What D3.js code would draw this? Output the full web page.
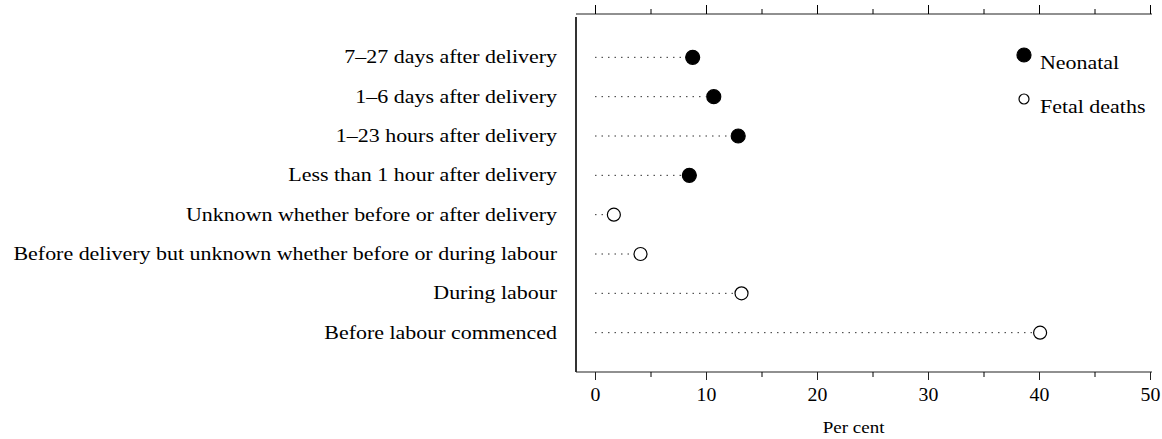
<!DOCTYPE html>
<html>
<head>
<meta charset="utf-8">
<script src="https://cdn.jsdelivr.net/npm/d3@7"></script>
<style>
  body { margin: 0; background: #fff; }
  text { font-family: "Liberation Serif", "Times New Roman", serif; fill: #000; }
</style>
</head>
<body>
<div class="canvas"></div>
<script>
const width = 1162
const height = 439

// data
const categories = [
    "7–27 days after delivery",
    "1–6 days after delivery",
    "1–23 hours after delivery",
    "Less than 1 hour after delivery",
    "Unknown whether before or after delivery",
    "Before delivery but unknown whether before or during labour",
    "During labour",
    "Before labour commenced"
]
const percents = [8.8, 10.7, 12.9, 8.5, 1.7, 4.1, 13.2, 40.1]
const groups = ["Neonatal", "Neonatal", "Neonatal", "Neonatal",
                "Fetal deaths", "Fetal deaths", "Fetal deaths", "Fetal deaths"]
const legendItems = ["Neonatal", "Fetal deaths"]
const majorTicks = [0, 10, 20, 30, 40, 50]
const minorTicks = [5, 15, 25, 35, 45]

const rows = categories.map((c, i) => ({ cat: c, value: percents[i], group: groups[i] }))

const svg = d3.select(".canvas")
    .append("svg")
    .attr("width", width)
    .attr("height", height)

const frameLeft = 576
const frameRight = 1152
const frameTop = 14
const frameBottom = 372
// the scanned type is wider than normal Times
const stretch = 1.22

const x = d3.scaleLinear().domain([0, 50]).range([595, 1150])
const y = d3.scalePoint().domain(categories).range([18, frameBottom]).padding(1)

// frame lines
svg.append("line")
    .attr("x1", frameLeft).attr("x2", frameLeft)
    .attr("y1", 17).attr("y2", frameBottom)
    .attr("stroke", "#333").attr("stroke-width", 2)
svg.append("line")
    .attr("x1", frameLeft).attr("x2", frameRight)
    .attr("y1", frameBottom).attr("y2", frameBottom)
    .attr("stroke", "#222").attr("stroke-width", 1.2)
svg.append("line")
    .attr("x1", frameLeft).attr("x2", frameRight)
    .attr("y1", frameTop).attr("y2", frameTop)
    .attr("stroke", "#222").attr("stroke-width", 1.2)

// bottom axis
const bottom = svg.append("g")
    .attr("transform", `translate(0,${frameBottom})`)
    .call(d3.axisBottom(x).tickValues(majorTicks).tickSize(8).tickPadding(8))
bottom.select(".domain").remove()
bottom.selectAll("text")
    .style("font-size", "18px")
    .style("font-family", "Liberation Serif")
    .attr("transform", "scale(1.1,1)")
bottom.selectAll("line").attr("stroke", "#222")

svg.append("g")
    .attr("transform", `translate(0,${frameBottom})`)
    .call(d3.axisBottom(x).tickValues(minorTicks).tickSize(5).tickFormat(""))
    .call(g => g.select(".domain").remove())

// top axis, no labels
svg.append("g")
    .attr("transform", `translate(0,${frameTop})`)
    .call(d3.axisTop(x).tickValues(majorTicks).tickSize(9).tickFormat(""))
    .call(g => g.select(".domain").remove())
svg.append("g")
    .attr("transform", `translate(0,${frameTop})`)
    .call(d3.axisTop(x).tickValues(minorTicks).tickSize(5).tickFormat(""))
    .call(g => g.select(".domain").remove())

svg.append("text")
    .attr("transform", `translate(${x(23.3)},433) scale(1.12,1)`)
    .attr("text-anchor", "middle")
    .style("font-size", "17px")
    .text("Per cent")

// category labels
svg.append("g")
    .attr("transform", `translate(557,0) scale(${stretch},1)`)
    .selectAll("text")
    .data(categories)
    .enter()
    .append("text")
    .attr("x", 0)
    .attr("y", d => y(d) + 6)
    .attr("text-anchor", "end")
    .style("font-size", "18px")
    .text(d => d)

// dotted leaders
svg.append("g")
    .selectAll("line")
    .data(rows)
    .enter()
    .append("line")
    .attr("x1", x(0))
    .attr("x2", d => x(d.value) - 8)
    .attr("y1", d => y(d.cat))
    .attr("y2", d => y(d.cat))
    .attr("stroke", "#333")
    .attr("stroke-width", 1)
    .attr("stroke-dasharray", "1.5,5")

// points
svg.append("g")
    .selectAll("circle")
    .data(rows)
    .enter()
    .append("circle")
    .attr("cx", d => x(d.value))
    .attr("cy", d => y(d.cat))
    .attr("r", d => d.group === "Neonatal" ? 7 : 6.5)
    .attr("fill", d => d.group === "Neonatal" ? "#000" : "#fff")
    .attr("stroke", "#000")
    .attr("stroke-width", 1.2)

// legend
const legend = svg.append("g")
    .selectAll("g")
    .data(legendItems)
    .enter()
    .append("g")
    .attr("transform", (d, i) => `translate(1024,${55 + i * 44})`)

legend.append("circle")
    .attr("r", (d, i) => i === 0 ? 7 : 5)
    .attr("fill", (d, i) => i === 0 ? "#000" : "#fff")
    .attr("stroke", "#000")
    .attr("stroke-width", 1.2)

legend.append("text")
    .attr("transform", `translate(16,14) scale(${stretch},1)`)
    .style("font-size", "18px")
    .text(d => d)
</script>
</body>
</html>
